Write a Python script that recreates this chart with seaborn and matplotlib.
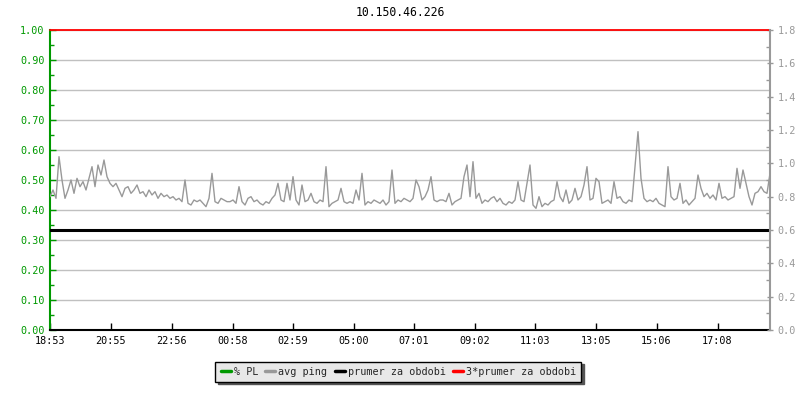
import numpy as np
import pandas as pd
import matplotlib
matplotlib.use("Agg")
import matplotlib.pyplot as plt
from matplotlib.ticker import MultipleLocator, FormatStrFormatter
import seaborn as sns

# avg ping (right axis), one value every 6 minutes from 18:53
ping = [
    0.80, 0.84, 0.79, 1.04, 0.90, 0.79, 0.84, 0.90, 0.82, 0.91, 0.86, 0.89, 0.84, 0.91, 0.98, 0.86, 0.99, 0.93, 1.02, 0.92,
    0.88, 0.86, 0.88, 0.84, 0.80, 0.85, 0.86, 0.82, 0.84, 0.87, 0.82, 0.83, 0.80, 0.84, 0.81, 0.83, 0.79, 0.82, 0.80, 0.81,
    0.79, 0.80, 0.78, 0.79, 0.77, 0.90, 0.76, 0.75, 0.78, 0.77, 0.78, 0.76, 0.74, 0.79, 0.94, 0.77, 0.76, 0.79, 0.78, 0.77,
    0.77, 0.78, 0.76, 0.86, 0.77, 0.75, 0.79, 0.80, 0.77, 0.78, 0.76, 0.75, 0.77, 0.76, 0.79, 0.81, 0.88, 0.78, 0.77, 0.88,
    0.78, 0.92, 0.78, 0.75, 0.87, 0.77, 0.78, 0.82, 0.77, 0.76, 0.78, 0.77, 0.98, 0.74, 0.76, 0.77, 0.78, 0.85, 0.77, 0.76,
    0.77, 0.76, 0.84, 0.78, 0.94, 0.75, 0.77, 0.76, 0.78, 0.77, 0.76, 0.78, 0.75, 0.77, 0.96, 0.76, 0.78, 0.77, 0.79, 0.78,
    0.77, 0.79, 0.90, 0.86, 0.78, 0.80, 0.84, 0.92, 0.78, 0.77, 0.78, 0.78, 0.77, 0.82, 0.75, 0.77, 0.78, 0.79, 0.92, 0.99,
    0.80, 1.01, 0.79, 0.82, 0.76, 0.78, 0.77, 0.79, 0.80, 0.77, 0.79, 0.76, 0.75, 0.77, 0.76, 0.78, 0.89, 0.78, 0.77, 0.88,
    0.99, 0.75, 0.73, 0.80, 0.74, 0.76, 0.75, 0.77, 0.78, 0.89, 0.80, 0.77, 0.84, 0.76, 0.78, 0.85, 0.78, 0.80, 0.87, 0.98,
    0.78, 0.79, 0.91, 0.89, 0.76, 0.77, 0.78, 0.76, 0.89, 0.79, 0.80, 0.77, 0.76, 0.78, 0.77, 0.98, 1.19, 0.91, 0.79, 0.77,
    0.78, 0.77, 0.79, 0.76, 0.75, 0.74, 0.98, 0.80, 0.78, 0.79, 0.88, 0.76, 0.78, 0.75, 0.77, 0.79, 0.93, 0.85, 0.80, 0.82,
    0.79, 0.81, 0.78, 0.88, 0.79, 0.80, 0.78, 0.79, 0.80, 0.97, 0.85, 0.96, 0.88, 0.80, 0.75, 0.82, 0.83, 0.86, 0.83, 0.82,
    0.94,
]
pl = []  # % PL - nic nenamereno
prumer = 0.6
tri_prumer = 1.8
tick_labels = ["18:53", "20:55", "22:56", "00:58", "02:59", "05:00",
               "07:01", "09:02", "11:03", "13:05", "15:06", "17:08"]
title = "10.150.46.226"

start = pd.Timestamp("2024-01-01 18:53")
df = pd.DataFrame({"cas": pd.date_range(start, periods=len(ping), freq="6min"),
                   "ping": ping})

sns.set_theme(style="white")
plt.rcParams['font.family'] = ['DejaVu Sans Mono']
fs = 7.3

green = "#009900"
gray = "#999999"

fig = plt.figure(figsize=(8, 4), dpi=100)
ax = fig.add_axes([0.0625, 0.175, 0.9, 0.75])
ax2 = ax.twinx()

# levá osa (% PL)
ax.set_ylim(0, 1.0)
ax.yaxis.set_major_locator(MultipleLocator(0.1))
ax.yaxis.set_minor_locator(MultipleLocator(0.05))
ax.yaxis.set_major_formatter(FormatStrFormatter('%.2f'))
ax.grid(axis='y', color='#c0c0c0', linewidth=1)
ax.set_axisbelow(True)
ax.tick_params(axis='y', which='both', direction='in', colors=green, labelcolor=green,
               length=4, width=1, pad=4, left=True, labelsize=fs)
ax.tick_params(axis='y', which='minor', length=3)
ax.plot(pl, pl, color=green, lw=2.5, label='% PL')

# pravá osa (avg ping)
sns.lineplot(data=df, x="cas", y="ping", ax=ax2, color=gray, lw=1, label='avg ping')
ax2.axhline(prumer, color='black', lw=2.2, label='prumer za obdobi')
ax2.axhline(tri_prumer, color='red', lw=1.3, clip_on=False, label='3*prumer za obdobi')
ax2.set_ylim(0, 1.8)
ax2.yaxis.set_major_locator(MultipleLocator(0.2))
ax2.yaxis.set_minor_locator(MultipleLocator(0.1))
ax2.yaxis.set_major_formatter(FormatStrFormatter('%.1f'))
ax2.tick_params(axis='y', which='major', direction='inout', colors=gray, labelcolor=gray,
                length=5, width=1, pad=3, right=True, labelsize=fs)
ax2.tick_params(axis='y', which='minor', direction='in', colors=gray, length=3, right=True)
ax2.set_ylabel('')
ax2.set_xlabel('')
ax2.get_legend().remove()

# osa x
end = start + pd.Timedelta(minutes=6 * (len(ping) - 1))
ax.set_xlim(start, end)
tick_pos = []
for lab in tick_labels:
    t = pd.Timestamp("2024-01-01 " + lab)
    if t < start:
        t = t + pd.Timedelta(days=1)
    tick_pos.append(t)
ax.set_xticks(tick_pos)
ax.set_xticklabels(tick_labels)
ax.tick_params(axis='x', direction='in', length=5, width=1, colors='black', pad=4,
               bottom=True, labelsize=fs)

for a in (ax, ax2):
    a.spines['top'].set_visible(False)
ax.spines['left'].set_color(green)
ax.spines['left'].set_linewidth(1.5)
ax.spines['bottom'].set_color('black')
ax.spines['bottom'].set_linewidth(1.5)
ax.spines['right'].set_visible(False)
ax2.spines['left'].set_visible(False)
ax2.spines['bottom'].set_visible(False)
ax2.spines['right'].set_color(gray)
ax2.spines['right'].set_linewidth(1.5)

fig.text(0.5, 0.97, title, ha='center', va='center', fontsize=8.3, color='black')

h1, l1 = ax.get_legend_handles_labels()
h2, l2 = ax2.get_legend_handles_labels()
leg = fig.legend(h1 + h2, l1 + l2, loc='center', bbox_to_anchor=(0.498, 0.071), ncol=4,
                 frameon=True, fancybox=False, shadow={'color': '#555555', 'alpha': 1},
                 handlelength=1.0, handletextpad=0.3, columnspacing=0.7,
                 borderpad=0.5, borderaxespad=0, fontsize=fs)
leg.get_frame().set_facecolor('#e8e8e8')
leg.get_frame().set_edgecolor('black')
leg.get_frame().set_linewidth(1)
leg.get_frame().set_alpha(1)
for line in leg.get_lines():
    line.set_linewidth(2.5)

fig.savefig("out.png", dpi=100)
